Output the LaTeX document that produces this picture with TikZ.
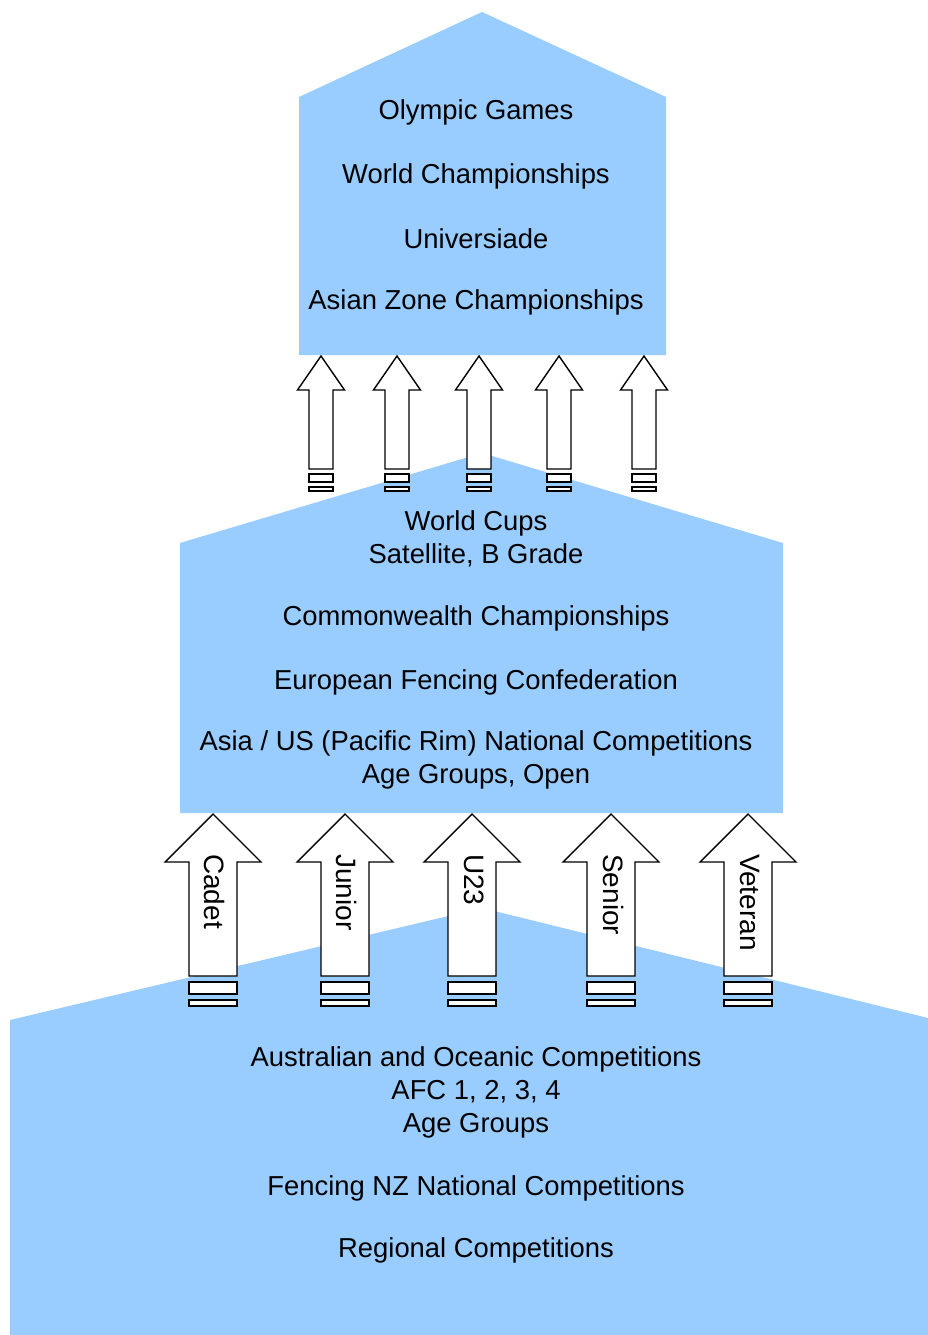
\documentclass[tikz,border=0pt]{standalone}
\usepackage{fontspec}
\setmainfont{Liberation Sans}
\definecolor{levelblue}{HTML}{99CCFF}

\tikzset{
  level/.style={fill=levelblue, draw=none},
  label/.style={font=\fontsize{27.4}{33}\selectfont, align=center, inner sep=0pt},
  agelabel/.style={font=\fontsize{28}{33}\selectfont, rotate=-90, anchor=west, inner sep=0pt},
  smallarrow/.pic={
    \draw[line width=1.4pt, fill=white] (0,0) -- (23.5,34) -- (12,34) -- (12,113)
      -- (-12,113) -- (-12,34) -- (-23.5,34) -- cycle;
    \draw[line width=1.4pt, fill=white] (-12,118) rectangle (12,126);
    \draw[line width=1.4pt, fill=white] (-12,131) rectangle (12,135);
  },
  bigarrow/.pic={
    \draw[line width=1.4pt, fill=white] (0,0) -- (48,48) -- (24,48) -- (24,162)
      -- (-24,162) -- (-24,48) -- (-48,48) -- cycle;
    \draw[line width=1.4pt, fill=white] (-24,168) rectangle (24,180);
    \draw[line width=1.4pt, fill=white] (-24,186) rectangle (24,192);
  }
}

\begin{document}
\begin{tikzpicture}[x=1pt, y=-1pt]

    \useasboundingbox (0,0) rectangle (928,1335);

    %% Levels

    % Bottom level
    \fill[level] (10,1335) -- (10,1020) -- (482,908) -- (928,1018) -- (928,1335) -- cycle;
    % Middle level
    \fill[level] (180,813) -- (180,543) -- (482,453) -- (783,543) -- (783,813) -- cycle;
    % Top level
    \fill[level] (299,355) -- (299,97) -- (482,12) -- (666,97) -- (666,355) -- cycle;

    %% Texts

    % Top level
    \node[label] (olympic) at (476,112) {Olympic Games};
    \node[label] (worldchamp) at (476,176) {World Championships};
    \node[label] (universiade) at (476,239) {Universiade};
    \node[label] (asianzone) at (476,302) {Asian Zone Championships};

    % Middle level
    \node[label] (worldcups) at (476,539) {World Cups\\Satellite, B Grade};
    \node[label] (commonwealth) at (476,618) {Commonwealth Championships};
    \node[label] (european) at (476,682) {European Fencing Confederation};
    \node[label] (asiaus) at (476,760) {Asia / US (Pacific Rim) National Competitions\\Age Groups, Open};

    % Bottom level
    \node[label] (oceanic) at (476,1092) {Australian and Oceanic Competitions\\AFC 1, 2, 3, 4\\Age Groups};
    \node[label] (nznational) at (476,1188) {Fencing NZ National Competitions};
    \node[label] (regional) at (476,1250) {Regional Competitions};

    %% Arrows

    % Small arrows to the top level
    \foreach \x in {321,397,479,559,644}
        \pic at (\x,356) {smallarrow};

    % Age group arrows
    \foreach \x/\name/\agetext in {213/cadet/Cadet, 345/junior/Junior, 472/utwentythree/U23, 611/senior/Senior, 748/veteran/Veteran} {
        \pic at (\x,814) {bigarrow};
        \node[agelabel] (\name) at (\x+2,854) {\agetext};
    }

\end{tikzpicture}
\end{document}
